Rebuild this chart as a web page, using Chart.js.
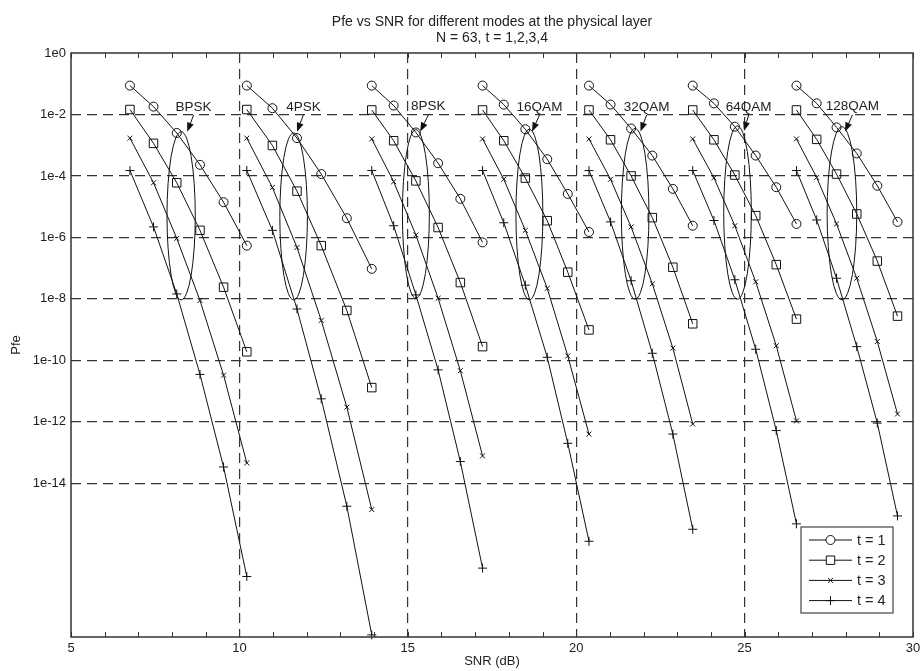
<!DOCTYPE html>
<html>
<head>
<meta charset="utf-8">
<script src="https://cdn.jsdelivr.net/npm/chart.js@4.4.1/dist/chart.umd.min.js"></script>
<style>
  html, body { margin: 0; padding: 0; background: #fff; }
  #wrap { width: 920px; height: 671px; }
</style>
</head>
<body>
<div id="wrap"><canvas id="pfeChart" width="920" height="671"></canvas></div>
<script>
// --- data ---
const modes = ['BPSK', '4PSK', '8PSK', '16QAM', '32QAM', '64QAM', '128QAM'];

// SNR (dB) of the six points of each mode
const snrDb = [
  [6.75, 7.45, 8.14, 8.83, 9.53, 10.22],
  [10.22, 10.98, 11.71, 12.43, 13.19, 13.93],
  [13.93, 14.58, 15.24, 15.90, 16.56, 17.22],
  [17.22, 17.85, 18.49, 19.14, 19.75, 20.38],
  [20.38, 21.02, 21.63, 22.26, 22.87, 23.46],
  [23.46, 24.09, 24.71, 25.33, 25.94, 26.54],
  [26.54, 27.14, 27.73, 28.33, 28.94, 29.54]
];

// Pfe per mode, one array per t
const pfeT1 = [
  [8.7e-2, 1.8e-2, 2.5e-3, 2.3e-4, 1.4e-5, 5.4e-7],
  [8.7e-2, 1.6e-2, 1.7e-3, 1.15e-4, 4.2e-6, 9.5e-8],
  [8.7e-2, 1.95e-2, 2.6e-3, 2.6e-4, 1.8e-5, 6.9e-7],
  [8.7e-2, 2.1e-2, 3.3e-3, 3.5e-4, 2.6e-5, 1.5e-6],
  [8.7e-2, 2.1e-2, 3.5e-3, 4.6e-4, 3.8e-5, 2.4e-6],
  [8.7e-2, 2.3e-2, 4.0e-3, 4.6e-4, 4.3e-5, 2.75e-6],
  [8.7e-2, 2.3e-2, 3.8e-3, 5.4e-4, 4.8e-5, 3.2e-6]
];
const pfeT2 = [
  [1.45e-2, 1.15e-3, 6.0e-5, 1.7e-6, 2.4e-8, 1.9e-10],
  [1.45e-2, 9.8e-4, 3.2e-5, 5.4e-7, 4.2e-9, 1.3e-11],
  [1.4e-2, 1.4e-3, 6.9e-5, 2.1e-6, 3.4e-8, 2.8e-10],
  [1.4e-2, 1.4e-3, 8.5e-5, 3.5e-6, 7.4e-8, 9.8e-10],
  [1.4e-2, 1.5e-3, 1.0e-4, 4.4e-6, 1.07e-7, 1.55e-9],
  [1.4e-2, 1.5e-3, 1.07e-4, 5.1e-6, 1.3e-7, 2.2e-9],
  [1.4e-2, 1.55e-3, 1.15e-4, 5.8e-6, 1.7e-7, 2.75e-9]
];
const pfeT3 = [
  [1.7e-3, 6.0e-5, 9.3e-7, 8.9e-9, 3.3e-11, 4.6e-14],
  [1.7e-3, 4.2e-5, 4.7e-7, 2.0e-9, 3.0e-12, 1.4e-15],
  [1.6e-3, 6.5e-5, 1.2e-6, 1.05e-8, 4.6e-11, 7.8e-14],
  [1.6e-3, 7.8e-5, 1.7e-6, 2.2e-8, 1.4e-10, 4.0e-13],
  [1.6e-3, 7.8e-5, 2.2e-6, 3.1e-8, 2.5e-10, 8.5e-13],
  [1.6e-3, 8.7e-5, 2.4e-6, 3.6e-8, 3.0e-10, 1.07e-12],
  [1.6e-3, 8.9e-5, 2.75e-6, 4.7e-8, 4.1e-10, 1.8e-12]
];
const pfeT4 = [
  [1.5e-4, 2.2e-6, 1.45e-8, 3.5e-11, 3.4e-14, 9.3e-18],
  [1.5e-4, 1.7e-6, 4.7e-9, 5.6e-12, 1.8e-15, 1.17e-19],
  [1.5e-4, 2.4e-6, 1.35e-8, 4.9e-11, 5.1e-14, 1.74e-17],
  [1.5e-4, 3.0e-6, 2.8e-8, 1.26e-10, 2.0e-13, 1.3e-16],
  [1.5e-4, 3.2e-6, 3.9e-8, 1.7e-10, 4.0e-13, 3.2e-16],
  [1.5e-4, 3.55e-6, 4.2e-8, 2.3e-10, 5.2e-13, 4.8e-16],
  [1.5e-4, 3.7e-6, 4.7e-8, 2.8e-10, 9.1e-13, 8.7e-16]
];

const tLabels = ['t = 1', 't = 2', 't = 3', 't = 4'];
const xTickLabels = [5, 10, 15, 20, 25, 30];
const yTickValues = [1, 1e-2, 1e-4, 1e-6, 1e-8, 1e-10, 1e-12, 1e-14];
const yTickLabels = ['1e0', '1e-2', '1e-4', '1e-6', '1e-8', '1e-10', '1e-12', '1e-14'];

// ellipse + arrow + label for each mode
const ellipseSnr = [8.27, 11.61, 15.24, 18.61, 21.75, 24.79, 27.89];
const ellipseHalfWidth = [0.42, 0.41, 0.40, 0.40, 0.41, 0.41, 0.44];
const ellipseTop = [2.75e-3, 2.5e-3, 3.2e-3, 3.3e-3, 3.5e-3, 4.2e-3, 4.0e-3];
const ellipseBottom = [9.3e-9, 9.3e-9, 1.05e-8, 9.3e-9, 9.8e-9, 9.8e-9, 9.3e-9];
const labelSnr = [8.64, 11.90, 15.61, 18.91, 22.09, 25.12, 28.20];
const labelPfe = [1.75e-2, 1.75e-2, 1.8e-2, 1.75e-2, 1.75e-2, 1.75e-2, 1.8e-2];
const arrowFromPfe = [9.6e-3, 9.6e-3, 9.6e-3, 9.6e-3, 9.6e-3, 9.6e-3, 9.6e-3];
const arrowTipSnr = [8.45, 11.71, 15.37, 18.69, 21.91, 24.98, 27.98];
const arrowTipPfe = [2.75e-3, 2.75e-3, 2.8e-3, 2.8e-3, 2.8e-3, 2.9e-3, 2.8e-3];

// --- datasets: one line per mode and t ---
const seriesT = [pfeT1, pfeT2, pfeT3, pfeT4];
const markerStyle = ['circle', 'rect', 'crossRot', 'cross'];
const markerRadius = [4.5, 6, 3.5, 4.5];
const ink = '#111';
const textFont = '"Liberation Sans", Arial, sans-serif';

const datasets = [];
seriesT.forEach((series, t) => {
  modes.forEach((mode, m) => {
    datasets.push({
      label: mode + ' ' + tLabels[t],
      data: snrDb[m].map((x, i) => ({ x: x, y: series[m][i] })),
      borderColor: ink,
      borderWidth: 1,
      backgroundColor: 'transparent',
      pointStyle: markerStyle[t],
      pointRadius: markerRadius[t],
      pointBorderColor: ink,
      pointBackgroundColor: 'rgba(0,0,0,0)',
      pointBorderWidth: 1,
      tension: 0,
      clip: 8
    });
  });
});

// frame, inner ticks, ellipses, arrows, labels, legend
const annotate = {
  id: 'annotate',
  afterDatasetsDraw(chart) {
    const { ctx, chartArea: area, scales: { x, y } } = chart;
    ctx.save();
    ctx.strokeStyle = '#333';
    ctx.lineWidth = 1;
    x.ticks.forEach(t => {
      const px = Math.round(x.getPixelForValue(t.value)) + 0.5;
      ctx.beginPath();
      ctx.moveTo(px, area.bottom); ctx.lineTo(px, area.bottom - 5);
      ctx.moveTo(px, area.top); ctx.lineTo(px, area.top + 5);
      ctx.stroke();
    });

    ctx.strokeStyle = ink;
    ctx.fillStyle = ink;
    modes.forEach((mode, i) => {
      const cx = x.getPixelForValue(ellipseSnr[i]);
      const top = y.getPixelForValue(ellipseTop[i]);
      const bot = y.getPixelForValue(ellipseBottom[i]);
      const rx = x.getPixelForValue(ellipseSnr[i] + ellipseHalfWidth[i]) - cx;
      ctx.lineWidth = 1;
      ctx.beginPath();
      ctx.ellipse(cx, (top + bot) / 2, rx, (bot - top) / 2, 0, 0, Math.PI * 2);
      ctx.stroke();

      // arrow from label to ellipse
      const x0 = x.getPixelForValue(labelSnr[i]);
      const y0 = y.getPixelForValue(arrowFromPfe[i]);
      const x1 = x.getPixelForValue(arrowTipSnr[i]);
      const y1 = y.getPixelForValue(arrowTipPfe[i]);
      const a = Math.atan2(y1 - y0, x1 - x0);
      const hl = 9, hw = 3.5;
      const bx = x1 - hl * Math.cos(a), by = y1 - hl * Math.sin(a);
      ctx.beginPath();
      ctx.moveTo(x0, y0); ctx.lineTo(bx, by);
      ctx.stroke();
      ctx.beginPath();
      ctx.moveTo(x1, y1);
      ctx.lineTo(bx - hw * Math.sin(a), by + hw * Math.cos(a));
      ctx.lineTo(bx + hw * Math.sin(a), by - hw * Math.cos(a));
      ctx.closePath();
      ctx.fill();

      ctx.font = '13.5px ' + textFont;
      ctx.textAlign = 'center';
      ctx.textBaseline = 'middle';
      ctx.fillStyle = '#222';
      ctx.fillText(mode, x0, y.getPixelForValue(labelPfe[i]));
      ctx.fillStyle = ink;
    });

    // axes box
    ctx.strokeStyle = '#333';
    ctx.lineWidth = 1.5;
    ctx.strokeRect(area.left, area.top, area.width, area.height);

    // legend, lower right inside the axes
    const lw = 92, lh = 86;
    const lx = area.right - 20 - lw, ly = area.bottom - 24 - lh;
    ctx.fillStyle = '#fff';
    ctx.fillRect(lx, ly, lw, lh);
    ctx.lineWidth = 1.2;
    ctx.strokeStyle = '#444';
    ctx.strokeRect(lx, ly, lw, lh);
    tLabels.forEach((lab, t) => {
      const ry = ly + 13 + t * 20.2;
      const mx = lx + 29.5;
      ctx.strokeStyle = ink;
      ctx.lineWidth = 1;
      ctx.beginPath();
      ctx.moveTo(lx + 8, ry); ctx.lineTo(lx + 51, ry);
      ctx.stroke();
      ctx.beginPath();
      if (t === 0) {
        ctx.fillStyle = '#fff';
        ctx.arc(mx, ry, 4.5, 0, Math.PI * 2);
        ctx.fill();
        ctx.stroke();
      } else if (t === 1) {
        ctx.fillStyle = '#fff';
        ctx.rect(mx - 4.2, ry - 4.2, 8.4, 8.4);
        ctx.fill();
        ctx.stroke();
      } else if (t === 2) {
        ctx.moveTo(mx - 2.5, ry - 2.5); ctx.lineTo(mx + 2.5, ry + 2.5);
        ctx.moveTo(mx - 2.5, ry + 2.5); ctx.lineTo(mx + 2.5, ry - 2.5);
        ctx.stroke();
      } else {
        ctx.moveTo(mx - 4.5, ry); ctx.lineTo(mx + 4.5, ry);
        ctx.moveTo(mx, ry - 4.5); ctx.lineTo(mx, ry + 4.5);
        ctx.stroke();
      }
      ctx.fillStyle = '#222';
      ctx.font = '14.5px ' + textFont;
      ctx.textAlign = 'left';
      ctx.textBaseline = 'middle';
      ctx.fillText(lab, lx + 56, ry + 0.5);
    });
    ctx.restore();
  }
};

const gridColor = '#333';
const ctxPfe = document.getElementById('pfeChart').getContext('2d');
new Chart(ctxPfe, {
  type: 'line',
  data: { datasets: datasets },
  plugins: [annotate],
  options: {
    responsive: false,
    animation: false,
    devicePixelRatio: 1,
    events: [],
    layout: { padding: { top: 0, right: 7, bottom: 0, left: 0 } },
    scales: {
      x: {
        type: 'linear',
        min: 5,
        max: 30,
        afterFit: s => { s.height = 34; s.paddingLeft = 0; s.paddingRight = 0; },
        ticks: {
          stepSize: 1,
          autoSkip: false,
          maxRotation: 0,
          padding: 4,
          color: '#222',
          font: { family: textFont, size: 13 },
          callback: v => xTickLabels.includes(v) ? String(v) : ''
        },
        grid: {
          drawTicks: false,
          lineWidth: 1.2,
          color: c => (c.tick && xTickLabels.includes(c.tick.value) && c.tick.value > 5 && c.tick.value < 30) ? gridColor : 'rgba(0,0,0,0)'
        },
        border: { display: false, dash: [10, 6] },
        title: {
          display: true,
          text: 'SNR (dB)',
          color: '#222',
          font: { family: textFont, size: 13 },
          padding: { top: 0, bottom: 2 }
        }
      },
      y: {
        type: 'logarithmic',
        min: 1e-19,
        max: 1,
        afterFit: s => { s.width = 71; },
        afterBuildTicks: s => { s.ticks = yTickValues.map(v => ({ value: v })); },
        ticks: {
          padding: 5,
          color: '#222',
          font: { family: textFont, size: 13 },
          callback: v => yTickLabels[yTickValues.indexOf(v)]
        },
        grid: {
          drawTicks: false,
          lineWidth: 1.2,
          color: c => (c.tick && c.tick.value < 1) ? gridColor : 'rgba(0,0,0,0)'
        },
        border: { display: false, dash: [10, 6] },
        title: {
          display: true,
          text: 'Pfe',
          color: '#222',
          font: { family: textFont, size: 13 },
          padding: { top: 9, bottom: 0 }
        }
      }
    },
    plugins: {
      legend: { display: false },
      tooltip: { enabled: false },
      title: {
        display: true,
        fullSize: false,
        text: ['Pfe vs SNR for different modes at the physical layer', 'N = 63, t = 1,2,3,4'],
        color: '#222',
        font: { family: textFont, size: 14, weight: 'normal', lineHeight: 1.157 },
        padding: { top: 14, bottom: 6.6 }
      }
    }
  }
});
</script>
</body>
</html>
